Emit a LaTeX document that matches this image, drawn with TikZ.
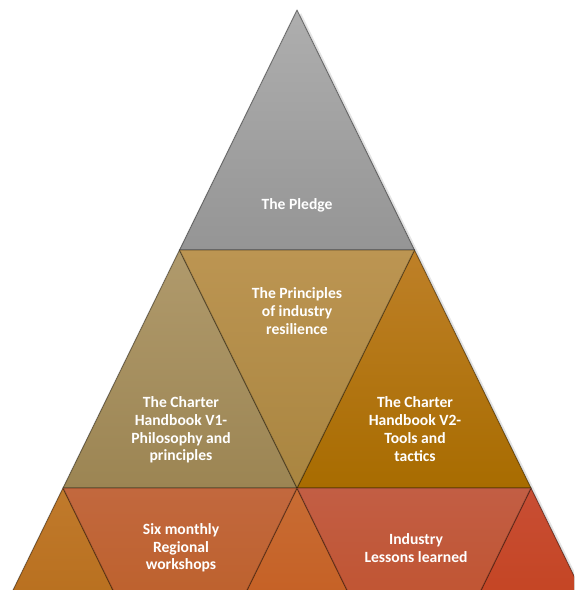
\documentclass[tikz,border=0pt]{standalone}
\usepackage{fontspec}
\setmainfont{Carlito}

\definecolor{pledgeTop}{HTML}{AEAEAE}
\definecolor{pledgeBot}{HTML}{959595}
\definecolor{princTop}{HTML}{BC9552}
\definecolor{princBot}{HTML}{A98540}
\definecolor{vOneTop}{HTML}{B09A6C}
\definecolor{vOneBot}{HTML}{9C8553}
\definecolor{vTwoTop}{HTML}{BE8028}
\definecolor{vTwoBot}{HTML}{A86C00}
\definecolor{leftTop}{HTML}{C07A2C}
\definecolor{leftBot}{HTML}{B06410}
\definecolor{sixTop}{HTML}{C2683E}
\definecolor{sixBot}{HTML}{B85A1A}
\definecolor{midTop}{HTML}{C86C34}
\definecolor{midBot}{HTML}{C25414}
\definecolor{indTop}{HTML}{C25E44}
\definecolor{indBot}{HTML}{BF4A1E}
\definecolor{rightTop}{HTML}{C84E34}
\definecolor{rightBot}{HTML}{C03A10}

\tikzstyle{tier} = [draw=black, draw opacity=0.25, line width=0.9pt, line join=round]
\tikzstyle{tierText} = [text=white, align=center, font=\bfseries\fontsize{11.1}{12.6}\selectfont]

\begin{document}
\begin{tikzpicture}[x=0.025cm, y=-0.025cm]
    \useasboundingbox (0,0) rectangle (574,590);
    \clip (0,0) rectangle (574,590);

    \coordinate (apex) at (297,10);
    \coordinate (L1) at (179.5,250);
    \coordinate (R1) at (414.5,250);
    \coordinate (L2) at (63,488);
    \coordinate (M2) at (297,488);
    \coordinate (R2) at (531,488);
    \coordinate (L3) at (-54,727);
    \coordinate (A3) at (180,727);
    \coordinate (B3) at (414,727);
    \coordinate (R3) at (648,727);

    % soft shadow of the pyramid
    \fill[black, opacity=0.10] ([shift={(4,3)}]apex) -- ([shift={(4,3)}]R3) -- ([shift={(4,3)}]L3) -- cycle;

    % top tier
    \fill[tier, top color=pledgeTop, bottom color=pledgeBot] (apex) -- (R1) -- (L1) -- cycle;

    % middle tier
    \fill[tier, top color=vOneTop, bottom color=vOneBot] (L1) -- (M2) -- (L2) -- cycle;
    \fill[tier, top color=vTwoTop, bottom color=vTwoBot] (R1) -- (R2) -- (M2) -- cycle;
    \fill[tier, top color=princTop, bottom color=princBot] (L1) -- (R1) -- (M2) -- cycle;

    % bottom tier
    \fill[tier, top color=leftTop, bottom color=leftBot] (L2) -- (A3) -- (L3) -- cycle;
    \fill[tier, top color=midTop, bottom color=midBot] (M2) -- (B3) -- (A3) -- cycle;
    \fill[tier, top color=rightTop, bottom color=rightBot] (R2) -- (R3) -- (B3) -- cycle;
    \fill[tier, top color=sixTop, bottom color=sixBot] (L2) -- (M2) -- (A3) -- cycle;
    \fill[tier, top color=indTop, bottom color=indBot] (M2) -- (R2) -- (B3) -- cycle;

    \node (pledge)[tierText] at (297,205) {The Pledge};
    \node (principles)[tierText] at (297,311) {The Principles\\of industry\\resilience};
    \node (handbookOne)[tierText] at (181,430) {The Charter\\Handbook V1-\\Philosophy and\\principles};
    \node (handbookTwo)[tierText] at (415,429) {The Charter\\Handbook V2-\\Tools and\\tactics};
    \node (workshops)[tierText] at (181,548) {Six monthly\\Regional\\workshops};
    \node (lessons)[tierText] at (416,548) {Industry\\Lessons learned};
\end{tikzpicture}
\end{document}
